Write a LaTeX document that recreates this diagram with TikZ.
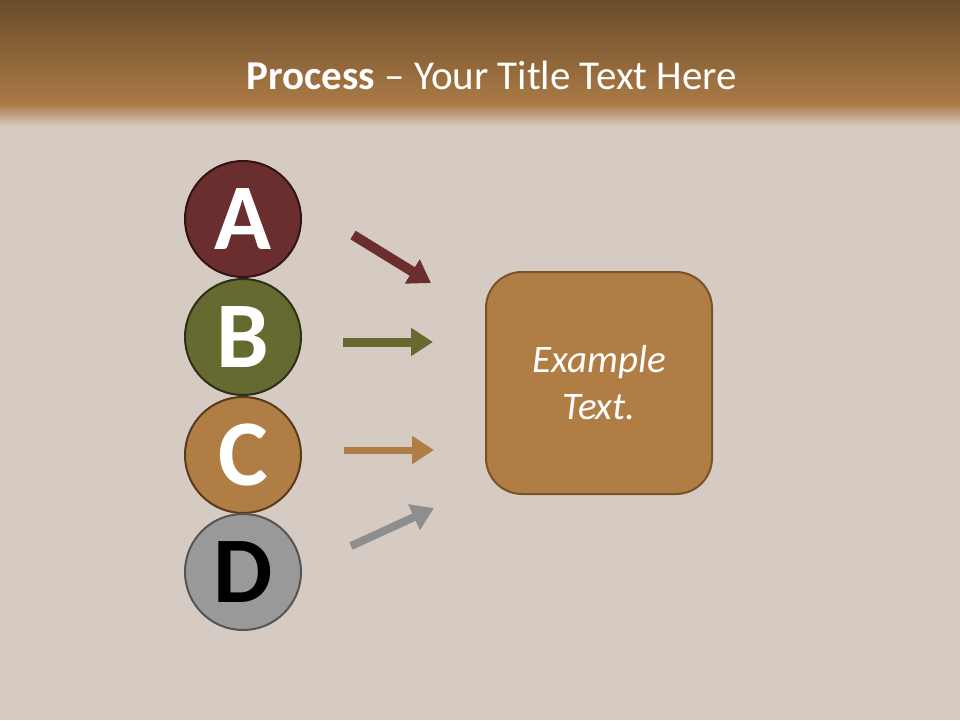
\documentclass[tikz,border=0pt]{standalone}
\usepackage{fontspec}
\setmainfont{Carlito}
\usetikzlibrary{arrows.meta,positioning}
\definecolor{bgcol}{RGB}{214,203,194}
\definecolor{hdtop}{RGB}{106,75,42}
\definecolor{hdbot}{RGB}{170,122,69}
\definecolor{colA}{RGB}{107,46,46}
\definecolor{colAb}{RGB}{50,20,20}
\definecolor{colB}{RGB}{102,106,48}
\definecolor{colBb}{RGB}{45,48,22}
\definecolor{colC}{RGB}{176,125,69}
\definecolor{colCb}{RGB}{90,58,26}
\definecolor{colD}{RGB}{153,153,153}
\definecolor{colDb}{RGB}{85,85,85}
\definecolor{arrD}{RGB}{142,142,142}
\definecolor{boxb}{RGB}{122,82,42}
\tikzset{
  letter/.style={circle, minimum size=116pt, inner sep=0pt, line width=2pt,
    font=\fontsize{94}{94}\selectfont\bfseries},
  flowarrow/.style={line width=#1, -{Triangle[length=22pt,width=27pt]}},
}
\begin{document}
\begin{tikzpicture}[x=1pt,y=-1pt]
\useasboundingbox (0,0) rectangle (960,720);
\fill[bgcol] (0,0) rectangle (960,720);
\shade[top color=hdtop, bottom color=hdbot] (0,0) rectangle (960,104);
\shade[top color=hdbot, bottom color=bgcol] (0,104) rectangle (960,126);
\node[text=white, font=\fontsize{41}{41}\selectfont] (title) at (492,75)
  {\textbf{Process} -- Your Title Text Here};

\node[letter, fill=colA, draw=colAb, text=white] (A) at (243,219) {A};
\node[letter, fill=colB, draw=colBb, text=white] (B) at (243,337) {B};
\node[letter, fill=colC, draw=colCb, text=white] (C) at (243,455) {C};
\node[letter, fill=colD, draw=colDb, text=black] (D) at (243,572) {D};

\node[rounded corners=36pt, fill=colC, draw=boxb, line width=2pt,
  minimum width=226pt, minimum height=222pt, text=white, align=center,
  font=\fontsize{39}{47}\selectfont\itshape] (box) at (599,383) {Example\\Text.};

\coordinate (a1) at (353,235); \coordinate (a2) at (431,283);
\coordinate (b1) at (343,342); \coordinate (b2) at (433,342);
\coordinate (c1) at (344,450); \coordinate (c2) at (434,450);
\coordinate (d1) at (351,546); \coordinate (d2) at (434,508);
\draw[flowarrow=10pt, colA] (a1) -- (a2);
\draw[flowarrow=9pt, colB] (b1) -- (b2);
\draw[flowarrow=7pt, colC] (c1) -- (c2);
\draw[flowarrow=8pt, arrD] (d1) -- (d2);
\end{tikzpicture}
\end{document}
